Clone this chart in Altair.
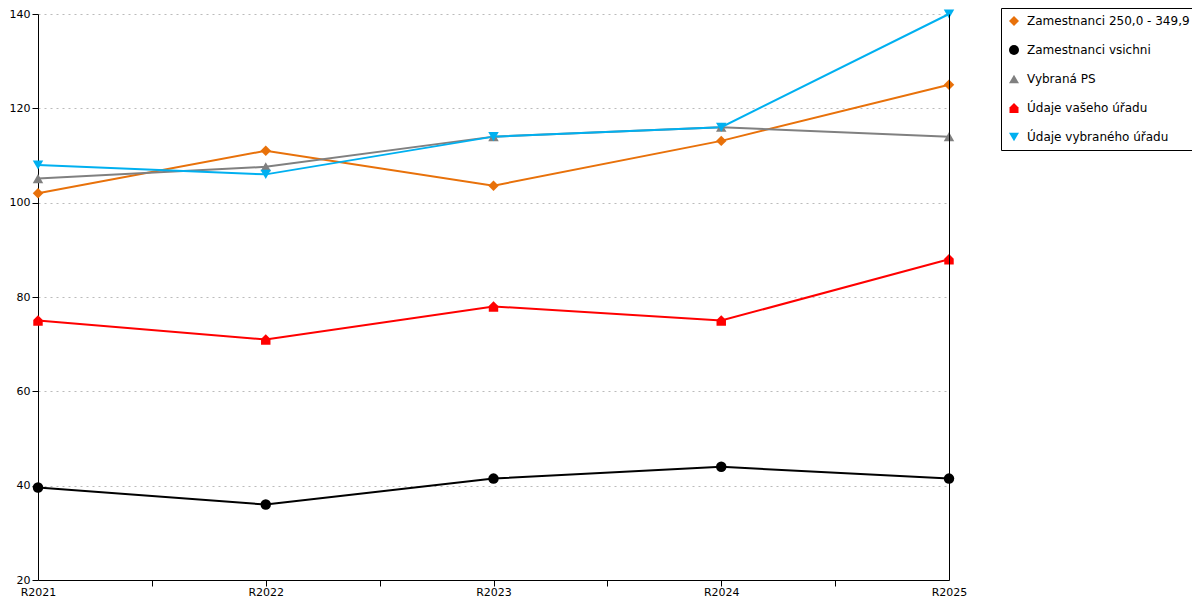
import altair as alt
import pandas as pd

categories = ["R2021", "R2022", "R2023", "R2024", "R2025"]
series_names = ["Zamestnanci 250,0 - 349,9", "Zamestnanci vsichni", "Vybraná PS",
                "Údaje vašeho úřadu", "Údaje vybraného úřadu"]
zam_250 = [102, 111, 103.6, 113.1, 125]
zam_all = [39.6, 36, 41.5, 44, 41.5]
vybrana_ps = [105.1, 107.6, 114, 116, 114]
vaseho = [75, 71, 78, 75, 88]
vybraneho = [108, 106, 114, 116, 140]
colors = ["#E8710A", "#000000", "#808080", "#FF0000", "#00B0F0"]
house = "M-0.9,1 L-0.9,-0.1 L0,-1 L0.9,-0.1 L0.9,1 Z"
shapes = ["diamond", "circle", "triangle-up", house, "triangle-down"]

rows = []
for name, vals in zip(series_names, [zam_250, zam_all, vybrana_ps, vaseho, vybraneho]):
    for i, (cat, v) in enumerate(zip(categories, vals)):
        rows.append({"series": name, "idx": i, "cat": cat, "value": v})
df = pd.DataFrame(rows)

label_expr = "datum.value % 1 == 0 ? 'R' + (2021 + datum.value) : ''"
x_enc = alt.X("idx:Q", scale=alt.Scale(domain=[0, 4], nice=False, zero=False),
              axis=alt.Axis(values=[0, 0.5, 1, 1.5, 2, 2.5, 3, 3.5, 4], labelExpr=label_expr,
                            title=None, grid=False, domainColor="black", tickColor="black",
                            tickSize=6, labelColor="black", labelFontSize=11, labelPadding=0,
                            labelFont="DejaVu Sans", labelFlush=False,
                            tickOpacity={"condition": {"test": "datum.value == 4 || datum.value == 0", "value": 0}, "value": 1}))
y_scale = alt.Scale(domain=[20, 140], nice=False, zero=False)
y_enc = alt.Y("value:Q", scale=y_scale,
              axis=alt.Axis(values=[20, 40, 60, 80, 100, 120, 140], title=None, grid=True,
                            gridDash=[2, 4], gridColor="#BBBBBB", gridWidth=1,
                            domainColor="black", tickColor="black", tickSize=6,
                            labelColor="black", labelFontSize=11, labelPadding=2,
                            labelFont="DejaVu Sans"))
color_enc = alt.Color("series:N", scale=alt.Scale(domain=series_names, range=colors),
                      sort=series_names,
                      legend=alt.Legend(title=None, orient="none", legendX=963, legendY=-6,
                                        strokeColor="black", padding=7, rowPadding=17,
                                        labelFontSize=12, labelFont="DejaVu Sans",
                                        labelColor="black", symbolSize=100, labelOffset=7,
                                        symbolStrokeWidth=0, labelLimit=300))
shape_enc = alt.Shape("series:N", scale=alt.Scale(domain=series_names, range=shapes),
                      sort=series_names)

lines = alt.Chart(df).mark_line(strokeWidth=2).encode(
    x=x_enc, y=y_enc, color=color_enc, detail="series:N", order="idx:Q")
points = alt.Chart(df).mark_point(filled=True, opacity=1, size=110).encode(
    x=x_enc, y=y_enc, color=color_enc, shape=shape_enc)
main = alt.layer(lines, points)
right_axis = alt.Chart(df).mark_point(opacity=0).encode(
    x=x_enc,
    y=alt.Y("value:Q", scale=y_scale,
            axis=alt.Axis(orient="right", labels=False, ticks=False, grid=False, title=None,
                          domainColor="black", zindex=1)))

chart = alt.layer(main, right_axis).resolve_axis(y="independent").properties(
    width=911, height=566,
    autosize=alt.AutoSizeParams(type="none"),
    padding={"left": 30, "top": 6, "right": 243, "bottom": 20},
).configure_view(stroke=None)

chart.save("out.html", embed_options={"renderer": "svg", "actions": False})
